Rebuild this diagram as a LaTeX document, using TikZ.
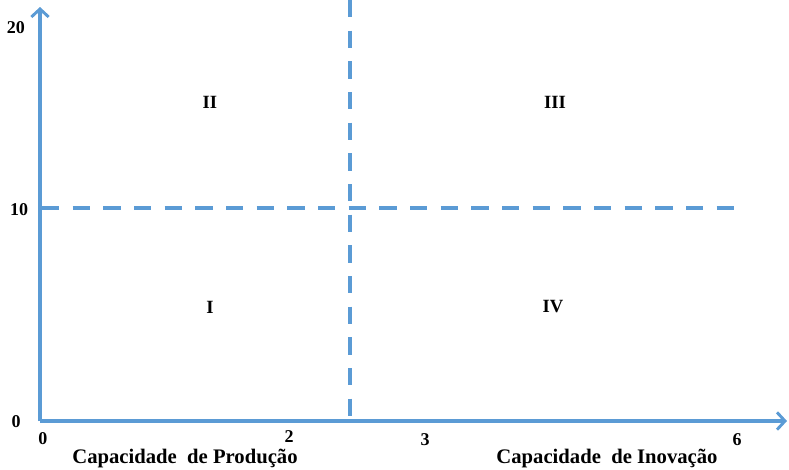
\documentclass[tikz,border=0pt]{standalone}
\usepackage{fontspec}
\setmainfont{Liberation Serif}
\usetikzlibrary{arrows.meta}
\definecolor{axisblue}{RGB}{91,155,213}

\begin{document}
\begin{tikzpicture}[x=0.75pt, y=-0.75pt,
  axis/.style={axisblue, line width=2.3pt, -{Straight Barb[length=6pt, width=13pt, line width=2.2pt]}},
  divider/.style={axisblue, line width=3pt, dash pattern=on 13pt off 10pt},
  tick/.style={font=\bfseries\fontsize{13.5}{15}\selectfont, inner sep=0pt},
  quadrant/.style={font=\bfseries\fontsize{14}{16}\selectfont, inner sep=0pt},
  title/.style={font=\bfseries\fontsize{15.5}{17}\selectfont, inner sep=0pt},
]
\useasboundingbox (0,0) rectangle (789,469);
% --- axes ---
\coordinate (origin) at (40,421);
\coordinate (ytop) at (40,7);
\coordinate (xend) at (787,421);
\draw[axis] (origin) -- (ytop);
\draw[axis] (origin) -- (xend);
% --- dividers ---
\coordinate (vtop) at (350,0);
\coordinate (vbot) at (350,419);
\coordinate (hleft) at (42,208);
\coordinate (hright) at (746,208);
\draw[divider] (vtop) -- (vbot);
\draw[divider] (hleft) -- (hright);
% --- tick labels ---
\node[tick] (y20) at (16,28) {20};
\node[tick] (y10) at (19,210) {10};
\node[tick] (y0) at (16,422) {0};
\node[tick] (x0) at (43,439) {0};
\node[tick] (x2) at (289,437) {2};
\node[tick] (x3) at (425,440) {3};
\node[tick] (x6) at (737,440) {6};
% --- quadrants ---
\node[quadrant] (q2) at (210,102) {II};
\node[quadrant] (q3) at (555,102) {III};
\node[quadrant] (q1) at (210,307) {I};
\node[quadrant] (q4) at (553,307) {IV};
% --- axis titles ---
\node[title] (prod) at (185,458) {Capacidade\ \ de Produção};
\node[title] (inov) at (607,458) {Capacidade\ \ de Inovação};
\end{tikzpicture}
\end{document}
